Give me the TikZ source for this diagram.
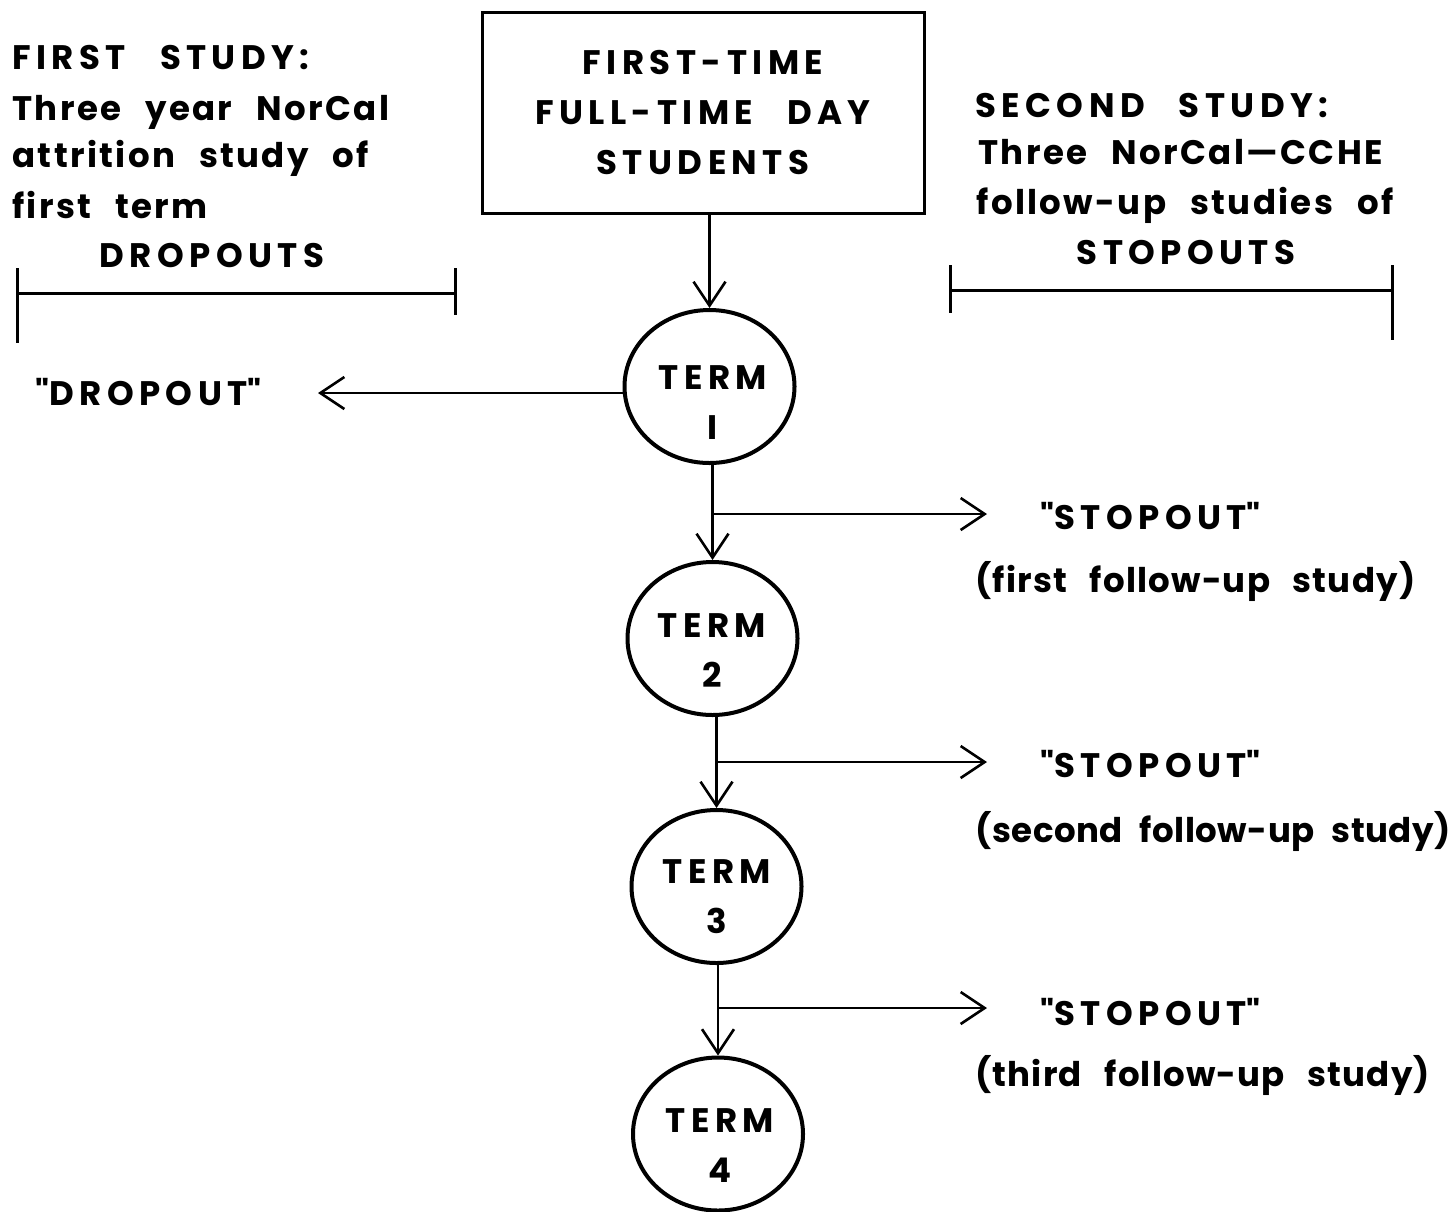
\documentclass[tikz,border=0pt]{standalone}
\usepackage{fontspec}
\setmainfont{Poppins}[WordSpace=2.7]
\newfontfamily\capf{Poppins}[LetterSpace=16,WordSpace=2.7]
\newfontfamily\midf{Poppins}[LetterSpace=7,WordSpace=2.5]
\newfontfamily\lowf{Poppins}[LetterSpace=3.5,WordSpace=2.7]
\newfontfamily\tightf{Poppins}[LetterSpace=1.5,WordSpace=2.2]
\newcommand\myqt{\textquotedbl}
\usetikzlibrary{shapes.geometric,arrows.meta}
\begin{document}
\begin{tikzpicture}[x=0.5pt,y=-0.5pt,
  every node/.style={font=\capf\bfseries\fontsize{17}{25}\selectfont},
  txt/.style={inner sep=0pt},
  midtxt/.style={inner sep=0pt,font=\midf\bfseries\fontsize{17}{25}\selectfont},
  lowtxt/.style={inner sep=0pt,font=\lowf\bfseries\fontsize{17}{25}\selectfont},
  tighttxt/.style={inner sep=0pt,font=\tightf\bfseries\fontsize{17}{25}\selectfont},
  termcirc/.style={draw,ellipse,line width=2pt,minimum width=85pt,minimum height=76.5pt,inner sep=0pt},
  termtxt/.style={inner sep=0pt,align=center},
  flow/.style={line width=1.3pt,-{Straight Barb[length=12pt,width=16pt,line width=1.3pt]}},
  brk/.style={line width=1.5pt}]
\useasboundingbox (0,0) rectangle (1449,1211);
% box
\node[draw,line width=1.5pt,minimum width=221pt,minimum height=100.5pt,align=center,inner sep=0pt] (box) at (703,112.5)
  {FIRST-TIME\\FULL-TIME DAY\\STUDENTS};
% terms
\node[termcirc] (t1) at (709.5,386.5) {};
\node[termcirc] (t2) at (712.5,638.5) {};
\node[termcirc] (t3) at (716.5,886.5) {};
\node[termcirc] (t4) at (718,1134) {};
\node[termtxt] (t1x) at (713,403) {TERM\\I};
\node[termtxt] (t2x) at (712,651) {TERM\\2};
\node[termtxt] (t3x) at (717,897) {TERM\\3};
\node[termtxt] (t4x) at (720,1146) {TERM\\4};
% vertical flow
\draw[flow] (box.south -| t1.north) -- (t1.north);
\draw[flow] (t2.north |- t1.south) -- (t2.north);
\draw[flow] (t3.north |- t2.south) -- (t3.north);
\draw[flow] (t4.north |- t3.south) -- (t4.north);
% dropout
\node[txt,anchor=base west] (drop) at (35,405) {\myqt DROPOUT\myqt};
\coordinate (dropend) at (318,393);
\draw[flow] (t1.west |- dropend) -- (dropend);
% stopouts
\coordinate (s1a) at (712.5,514); \coordinate (s1b) at (987,514);
\coordinate (s2a) at (716.5,762); \coordinate (s2b) at (987,762);
\coordinate (s3a) at (718,1008); \coordinate (s3b) at (987,1008);
\draw[flow] (s1a) -- (s1b);
\draw[flow] (s2a) -- (s2b);
\draw[flow] (s3a) -- (s3b);
\node[txt,anchor=base west] (st1) at (1040,529) {\myqt STOPOUT\myqt};
\node[lowtxt,anchor=base west] (fu1) at (975,592) {(first follow-up study)};
\node[txt,anchor=base west] (st2) at (1040,777) {\myqt STOPOUT\myqt};
\node[tighttxt,anchor=base west] (fu2) at (975,842) {(second follow-up study)};
\node[txt,anchor=base west] (st3) at (1040,1025) {\myqt STOPOUT\myqt};
\node[lowtxt,anchor=base west] (fu3) at (975,1086) {(third follow-up study)};
% left study
\node[txt,anchor=base west] (l1) at (12,69) {FIRST STUDY:};
\node[midtxt,anchor=base west] (l2) at (12,120) {Three year NorCal};
\node[midtxt,anchor=base west] (l3) at (12,167) {attrition study of};
\node[midtxt,anchor=base west] (l4) at (12,218) {first term};
\node[txt,anchor=base] (l5) at (212,267) {DROPOUTS};
\draw[brk] (17,293) -- (455,293);
\draw[brk] (17,268) -- (17,343);
\draw[brk] (455,268) -- (455,315);
% right study
\node[txt,anchor=base west] (r1) at (975,117) {SECOND STUDY:};
\node[midtxt,anchor=base west] (r2) at (978,164) {Three NorCal—CCHE};
\node[midtxt,anchor=base west] (r3) at (976,214) {follow-up studies of};
\node[txt,anchor=base] (r4) at (1186,264) {STOPOUTS};
\draw[brk] (950,290) -- (1392,290);
\draw[brk] (950,265) -- (950,313);
\draw[brk] (1392,265) -- (1392,340);
\end{tikzpicture}
\end{document}
